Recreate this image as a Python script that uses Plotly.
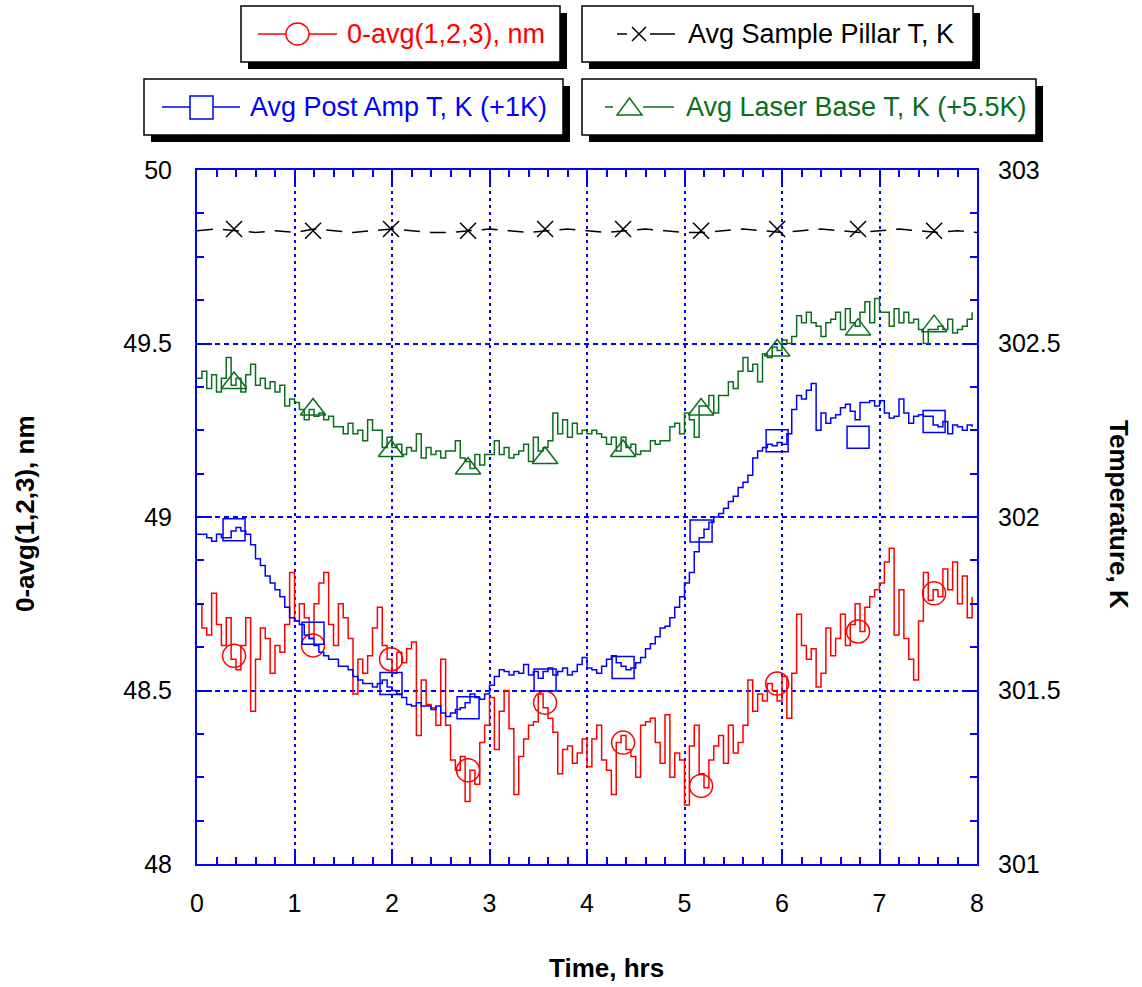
import plotly.graph_objects as go

# ---------------- data ----------------
hours = [round(i * 0.05, 2) for i in range(160)]          # 0.00 .. 7.95 h

red_nm = [
    48.75, 48.68, 48.66, 48.78, 48.69, 48.63, 48.71, 48.59, 48.56, 48.63, 48.71, 48.44, 48.59, 48.68, 48.65, 48.55, 48.63, 48.61, 48.69, 48.84,
    48.70, 48.75, 48.71, 48.65, 48.75, 48.81, 48.84, 48.69, 48.63, 48.75, 48.71, 48.65, 48.49, 48.59, 48.55, 48.60, 48.68, 48.74, 48.63, 48.59,
    48.55, 48.61, 48.58, 48.62, 48.64, 48.37, 48.53, 48.46, 48.45, 48.40, 48.59, 48.40, 48.30, 48.27, 48.31, 48.18, 48.27, 48.23, 48.35, 48.40,
    48.48, 48.33, 48.44, 48.50, 48.39, 48.20, 48.31, 48.36, 48.40, 48.41, 48.49, 48.45, 48.42, 48.38, 48.26, 48.33, 48.34, 48.29, 48.32, 48.36,
    48.28, 48.36, 48.40, 48.30, 48.27, 48.20, 48.35, 48.37, 48.33, 48.31, 48.25, 48.40, 48.41, 48.42, 48.35, 48.29, 48.43, 48.25, 48.32, 48.30,
    48.17, 48.34, 48.40, 48.26, 48.22, 48.30, 48.34, 48.37, 48.29, 48.40, 48.32, 48.35, 48.40, 48.53, 48.44, 48.49, 48.47, 48.52, 48.50, 48.47,
    48.54, 48.42, 48.55, 48.72, 48.63, 48.59, 48.62, 48.51, 48.55, 48.68, 48.60, 48.65, 48.72, 48.63, 48.69, 48.75, 48.67, 48.74, 48.77, 48.79,
    48.81, 48.87, 48.91, 48.66, 48.79, 48.65, 48.59, 48.53, 48.70, 48.84, 48.76, 48.79, 48.77, 48.85, 48.79, 48.87, 48.75, 48.83, 48.71, 48.77,
]

post_amp_K = [
    301.95, 301.95, 301.94, 301.93, 301.95, 301.94, 301.94, 301.96, 301.97, 301.96, 301.95, 301.92, 301.88, 301.86, 301.83, 301.81, 301.79, 301.77, 301.74, 301.71,
    301.70, 301.69, 301.66, 301.65, 301.63, 301.61, 301.60, 301.59, 301.59, 301.57, 301.57, 301.56, 301.54, 301.53, 301.52, 301.52, 301.51, 301.52, 301.53, 301.51,
    301.50, 301.49, 301.48, 301.46, 301.455, 301.465, 301.455, 301.455, 301.445, 301.455, 301.435, 301.425, 301.435, 301.445, 301.45, 301.465, 301.49, 301.48, 301.475, 301.49,
    301.515, 301.54, 301.56, 301.555, 301.545, 301.555, 301.55, 301.575, 301.545, 301.555, 301.535, 301.555, 301.565, 301.545, 301.555, 301.565, 301.545, 301.555, 301.575, 301.595,
    301.565, 301.56, 301.55, 301.57, 301.59, 301.60, 301.58, 301.57, 301.56, 301.565, 301.58, 301.595, 301.62, 301.635, 301.655, 301.68, 301.685, 301.71, 301.74, 301.77,
    301.81, 301.84, 301.90, 301.94, 301.965, 301.985, 302.00, 302.01, 302.025, 302.045, 302.06, 302.085, 302.10, 302.12, 302.17, 302.19, 302.20, 302.21, 302.205, 302.215,
    302.21, 302.24, 302.31, 302.35, 302.34, 302.365, 302.385, 302.25, 302.30, 302.27, 302.285, 302.295, 302.315, 302.325, 302.305, 302.28, 302.33, 302.33, 302.335, 302.32,
    302.335, 302.30, 302.285, 302.29, 302.34, 302.30, 302.27, 302.29, 302.295, 302.29, 302.29, 302.265, 302.26, 302.275, 302.24, 302.265, 302.26, 302.25, 302.265, 302.26,
]

laser_base_K = [
    302.40, 302.42, 302.37, 302.41, 302.36, 302.40, 302.46, 302.38, 302.40, 302.36, 302.41, 302.44, 302.38, 302.40, 302.37, 302.39, 302.36, 302.38, 302.32, 302.34,
    302.33, 302.31, 302.28, 302.31, 302.29, 302.30, 302.28, 302.29, 302.26, 302.26, 302.24, 302.27, 302.24, 302.25, 302.22, 302.28, 302.25, 302.25, 302.20, 302.23,
    302.20, 302.21, 302.18, 302.20, 302.19, 302.24, 302.17, 302.20, 302.18, 302.19, 302.17, 302.19, 302.19, 302.22, 302.17, 302.16, 302.14, 302.18, 302.15, 302.18,
    302.18, 302.22, 302.18, 302.20, 302.17, 302.18, 302.19, 302.21, 302.16, 302.23, 302.19, 302.20, 302.22, 302.30, 302.24, 302.28, 302.23, 302.27, 302.24, 302.25,
    302.24, 302.25, 302.24, 302.23, 302.21, 302.23, 302.19, 302.23, 302.20, 302.21, 302.18, 302.19, 302.19, 302.22, 302.21, 302.22, 302.22, 302.26, 302.27, 302.24,
    302.30, 302.28, 302.23, 302.32, 302.32, 302.35, 302.30, 302.35, 302.35, 302.39, 302.37, 302.42, 302.46, 302.42, 302.44, 302.39, 302.47, 302.46, 302.49, 302.48,
    302.51, 302.50, 302.52, 302.58, 302.56, 302.59, 302.56, 302.55, 302.52, 302.56, 302.57, 302.59, 302.54, 302.60, 302.56, 302.55, 302.59, 302.62, 302.56, 302.63,
    302.59, 302.59, 302.55, 302.60, 302.56, 302.59, 302.56, 302.57, 302.54, 302.50, 302.54, 302.54, 302.55, 302.54, 302.57, 302.53, 302.54, 302.55, 302.57, 302.59,
]

pillar_hours = [round(i * 0.2, 1) for i in range(41)]
pillar_K = [
    302.825, 302.83, 302.825, 302.82, 302.825, 302.82, 302.83, 302.825, 302.82, 302.825,
    302.83, 302.825, 302.82, 302.82, 302.825, 302.83, 302.825, 302.82, 302.825, 302.83,
    302.825, 302.82, 302.825, 302.83, 302.825, 302.82, 302.82, 302.825, 302.83, 302.825,
    302.82, 302.825, 302.83, 302.825, 302.82, 302.825, 302.83, 302.825, 302.82, 302.825, 302.82,
]

marker_hours = [0.38, 1.19, 1.99, 2.78, 3.57, 4.37, 5.17, 5.95, 6.78, 7.56]
red_marks = [48.60, 48.63, 48.59, 48.27, 48.465, 48.35, 48.225, 48.52, 48.67, 48.78]
post_amp_marks = [301.963, 301.665, 301.52, 301.45, 301.53, 301.566, 301.96, 302.22, 302.23, 302.275]
laser_base_marks = [302.386, 302.31, 302.19, 302.14, 302.17, 302.19, 302.31, 302.48, 302.54, 302.55]
pillar_marks = [302.83, 302.825, 302.83, 302.825, 302.83, 302.83, 302.825, 302.83, 302.83, 302.825]

legend_labels = ["0-avg(1,2,3), nm", "Avg Sample Pillar T, K",
                 "Avg Post Amp T, K (+1K)", "Avg Laser Base T, K (+5.5K)"]

# ---------------- styling ----------------
RED, BLUE, GREEN, BLACK = "#ff0000", "#0000ff", "#0b6e1c", "#000000"
FONT = "Liberation Sans, Arial, sans-serif"
W, H = 1142, 987
L, R, T, B = 197, 165, 170, 123
PW, PH = W - L - R, H - T - B


def px(x):
    return (x - L) / PW


def py(y):
    return (H - B - y) / PH


fig = go.Figure()

fig.add_trace(go.Scatter(x=hours, y=laser_base_K, yaxis="y2", mode="lines",
                         line=dict(color=GREEN, width=1.5, shape="hv"), showlegend=False))
fig.add_trace(go.Scatter(x=hours, y=post_amp_K, yaxis="y2", mode="lines",
                         line=dict(color=BLUE, width=1.5, shape="hv"), showlegend=False))
fig.add_trace(go.Scatter(x=hours, y=red_nm, mode="lines",
                         line=dict(color=RED, width=1.5, shape="hv"), showlegend=False))
fig.add_trace(go.Scatter(x=pillar_hours, y=pillar_K, yaxis="y2", mode="lines",
                         line=dict(color=BLACK, width=1.5, dash="16px,10px"), showlegend=False))

fig.add_trace(go.Scatter(x=marker_hours, y=laser_base_marks, yaxis="y2", mode="markers",
                         marker=dict(symbol="triangle-up-open", size=22, color=GREEN,
                                     line=dict(width=1.5, color=GREEN)), showlegend=False))
fig.add_trace(go.Scatter(x=marker_hours, y=post_amp_marks, yaxis="y2", mode="markers",
                         marker=dict(symbol="square-open", size=22, color=BLUE,
                                     line=dict(width=1.5, color=BLUE)), showlegend=False))
fig.add_trace(go.Scatter(x=marker_hours, y=red_marks, mode="markers",
                         marker=dict(symbol="circle-open", size=23, color=RED,
                                     line=dict(width=1.5, color=RED)), showlegend=False))
fig.add_trace(go.Scatter(x=marker_hours, y=pillar_marks, yaxis="y2", mode="markers",
                         marker=dict(symbol="x-thin-open", size=16, color=BLACK,
                                     line=dict(width=1.5, color=BLACK)), showlegend=False))

tickfont = dict(family=FONT, size=25, color="black")
common = dict(showline=True, linecolor=BLUE, linewidth=2, ticks="inside",
              tickcolor=BLUE, tickwidth=2, ticklen=15, tickfont=tickfont, zeroline=False)

fig.update_layout(
    width=W, height=H,
    margin=dict(l=L, r=R, t=T, b=B, autoexpand=False),
    paper_bgcolor="white", plot_bgcolor="white",
    xaxis=dict(range=[0, 8], dtick=1, tick0=0, mirror="ticks",
               showgrid=True, gridcolor=BLUE, gridwidth=2, griddash="3px,4px",
               minor=dict(dtick=0.2, tick0=0, ticks="inside", ticklen=7,
                          tickcolor=BLUE, tickwidth=2, showgrid=False),
               ticklabelstandoff=16, **common),
    yaxis=dict(range=[48, 50], dtick=0.5, tick0=48,
               showgrid=True, gridcolor=BLUE, gridwidth=2, griddash="5px,4px",
               minor=dict(dtick=0.125, tick0=48, ticks="inside", ticklen=7,
                          tickcolor=BLUE, tickwidth=2, showgrid=False),
               ticklabelstandoff=18, **common),
    yaxis2=dict(range=[301, 303], dtick=0.5, tick0=301, overlaying="y", side="right",
                showgrid=False,
                minor=dict(dtick=0.125, tick0=301, ticks="inside", ticklen=7,
                           tickcolor=BLUE, tickwidth=2, showgrid=False),
                ticklabelstandoff=14, **common),
    showlegend=False,
)

# ---------------- axis titles ----------------
title_font = dict(family=FONT, size=26, color="black")
fig.add_annotation(x=px(606), y=py(968), xref="paper", yref="paper", text="<b>Time, hrs</b>",
                   showarrow=False, xanchor="center", yanchor="middle", font=title_font)
fig.add_annotation(x=px(25), y=py(514), xref="paper", yref="paper", text="<b>0-avg(1,2,3), nm</b>",
                   showarrow=False, textangle=-90, xanchor="center", yanchor="middle", font=title_font)
fig.add_annotation(x=px(1119), y=py(514), xref="paper", yref="paper", text="<b>Temperature, K</b>",
                   showarrow=False, textangle=90, xanchor="center", yanchor="middle", font=title_font)

# ---------------- legend boxes (drawn) ----------------
boxes = [
    (241, 6, 560, 62),
    (582, 6, 973, 62),
    (144, 79, 563, 135),
    (582, 79, 1036, 135),
]
shapes = []
for (x0, y0, x1, y1) in boxes:
    shapes.append(dict(type="rect", xref="paper", yref="paper",
                       x0=px(x0 + 7), x1=px(x1 + 7), y0=py(y1 + 7), y1=py(y0 + 7),
                       fillcolor="black", line=dict(width=0)))
for (x0, y0, x1, y1) in boxes:
    shapes.append(dict(type="rect", xref="paper", yref="paper",
                       x0=px(x0), x1=px(x1), y0=py(y1), y1=py(y0),
                       fillcolor="white", line=dict(color="black", width=1.5)))


def seg(xa, xb, y, color):
    return dict(type="line", xref="paper", yref="paper", x0=px(xa), x1=px(xb),
                y0=py(y), y1=py(y), line=dict(color=color, width=1.5))


# red: line with circle
shapes.append(seg(258, 337, 34, RED))
shapes.append(dict(type="circle", xref="paper", yref="paper", x0=px(286), x1=px(309),
                   y0=py(45), y1=py(23), fillcolor="white", line=dict(color=RED, width=1.5)))
# black: -x-
shapes.append(seg(617, 627, 34, BLACK))
shapes.append(seg(650, 675, 34, BLACK))
shapes.append(dict(type="path", xref="paper", yref="paper",
                   path=f"M{px(632)},{py(27)} L{px(646)},{py(41)} M{px(632)},{py(41)} L{px(646)},{py(27)}",
                   line=dict(color=BLACK, width=1.5)))
# blue: line with square
shapes.append(seg(162, 240, 107, BLUE))
shapes.append(dict(type="rect", xref="paper", yref="paper", x0=px(190), x1=px(213),
                   y0=py(119), y1=py(96), fillcolor="white", line=dict(color=BLUE, width=1.5)))
# green: -triangle-
shapes.append(seg(605, 613, 107, GREEN))
shapes.append(seg(643, 674, 107, GREEN))
shapes.append(dict(type="path", xref="paper", yref="paper",
                   path=f"M{px(617)},{py(115)} L{px(642)},{py(115)} L{px(629.5)},{py(98)} Z",
                   line=dict(color=GREEN, width=1.5)))
fig.update_layout(shapes=shapes)

leg_font = 27
for (text, color, xs, yc) in [(legend_labels[0], RED, 345, 34),
                              (legend_labels[1], BLACK, 686, 34),
                              (legend_labels[2], BLUE, 248, 107),
                              (legend_labels[3], GREEN, 684, 107)]:
    fig.add_annotation(x=px(xs), y=py(yc), xref="paper", yref="paper", text=text,
                       showarrow=False, xanchor="left", yanchor="middle",
                       font=dict(family=FONT, size=leg_font, color=color))

fig.write_html("out.html", config={"displayModeBar": False},
               post_script="document.body.style.margin='0px';document.body.style.overflow='hidden';")
